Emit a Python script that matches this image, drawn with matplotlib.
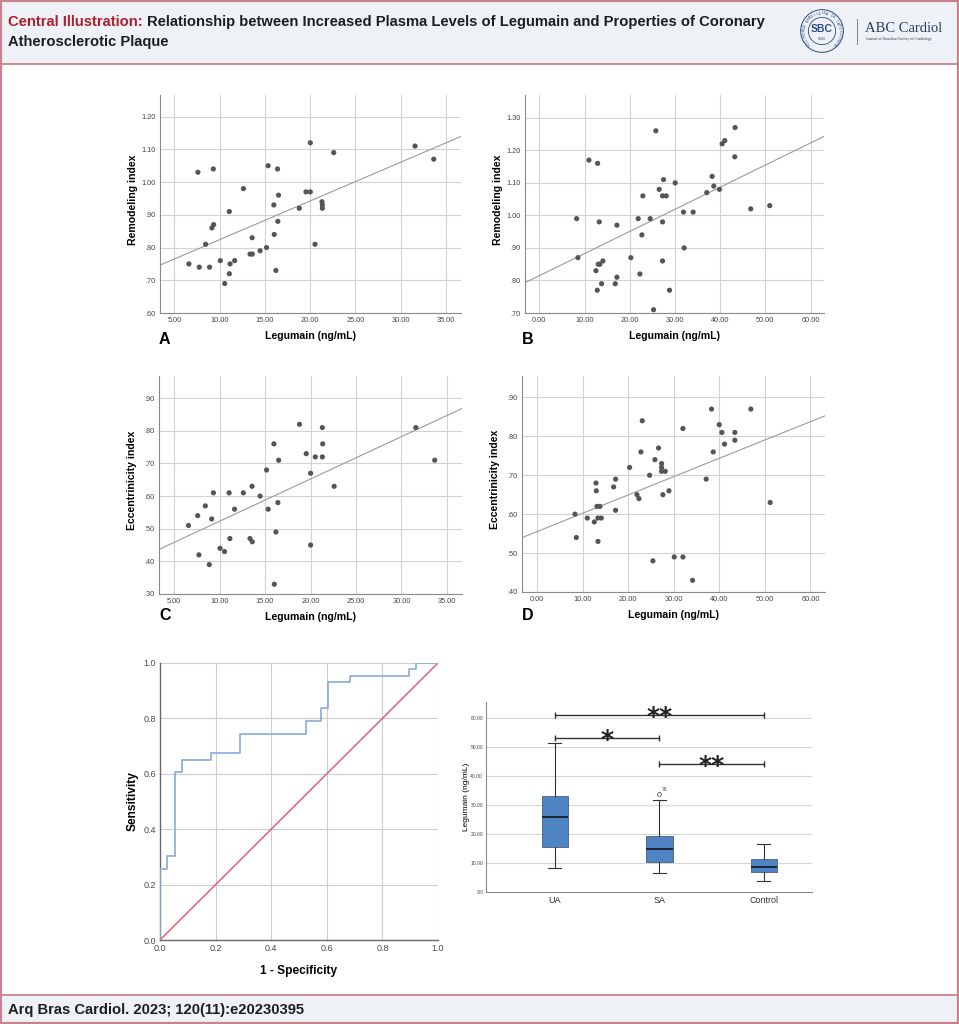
import numpy as np
import matplotlib
matplotlib.use('Agg')
import matplotlib.pyplot as plt
from matplotlib.patches import Rectangle, Circle
from matplotlib.lines import Line2D
from matplotlib.ticker import FuncFormatter

# ---- data ----
# panel A: legumain (ng/mL) vs remodeling index, SA group
a_x = [7.59, 9.29, 6.59, 7.74, 8.88, 8.44, 9.14, 9.33, 10.06, 10.55,
       11.06, 11.14, 11.06, 11.65, 12.62, 13.35, 13.60, 13.58, 14.46, 15.17,
       15.35, 15.98, 16.02, 16.20, 16.39, 16.42, 16.50, 18.79, 19.53, 20.01,
       20.01, 20.53, 21.30, 21.34, 21.34, 22.60, 31.58, 33.65]
a_y = [1.03, 1.04, 0.75, 0.74, 0.74, 0.81, 0.86, 0.87, 0.76, 0.69,
       0.72, 0.75, 0.91, 0.76, 0.98, 0.78, 0.78, 0.83, 0.79, 0.80,
       1.05, 0.93, 0.84, 0.73, 1.04, 0.88, 0.96, 0.92, 0.97, 0.97,
       1.12, 0.81, 0.94, 0.93, 0.92, 1.09, 1.11, 1.07]

# panel B: UA group
b_x = [8.25, 8.54, 10.97, 12.89, 13.25, 12.52, 13.03, 13.40, 14.06, 12.81,
       13.77, 16.79, 17.16, 17.16, 20.25, 21.87, 22.24, 22.68, 22.90, 24.52,
       25.26, 25.77, 26.51, 27.25, 27.25, 27.25, 27.47, 28.06, 28.79, 30.04,
       31.88, 32.03, 34.02, 37.04, 38.22, 38.59, 39.84, 40.43, 41.02, 43.22,
       43.30, 46.76, 50.96]
b_y = [0.99, 0.87, 1.17, 1.16, 0.98, 0.83, 0.85, 0.85, 0.86, 0.77,
       0.79, 0.79, 0.97, 0.81, 0.87, 0.99, 0.82, 0.94, 1.06, 0.99,
       0.71, 1.26, 1.08, 0.86, 0.98, 1.06, 1.11, 1.06, 0.77, 1.10,
       1.01, 0.90, 1.01, 1.07, 1.12, 1.09, 1.08, 1.22, 1.23, 1.18,
       1.27, 1.02, 1.03]

# panel C: legumain vs eccentricity index, SA group
c_x = [6.59, 7.60, 7.74, 8.44, 8.88, 9.14, 9.33, 10.06, 10.55, 11.06,
       11.14, 11.65, 12.62, 13.35, 13.58, 13.60, 14.46, 15.17, 15.35, 15.98,
       16.02, 16.20, 16.42, 16.50, 18.79, 19.53, 20.01, 20.01, 20.53, 21.30,
       21.30, 21.34, 22.60, 31.58, 33.65]
c_y = [0.51, 0.54, 0.42, 0.57, 0.39, 0.53, 0.61, 0.44, 0.43, 0.61,
       0.47, 0.56, 0.61, 0.47, 0.63, 0.46, 0.60, 0.68, 0.56, 0.76,
       0.33, 0.49, 0.58, 0.71, 0.82, 0.73, 0.45, 0.67, 0.72, 0.81,
       0.72, 0.76, 0.63, 0.81, 0.71]

# panel D: UA group
d_x = [8.33, 8.63, 11.04, 12.57, 12.94, 13.01, 13.16, 13.38, 13.38, 13.82,
       14.11, 16.81, 17.25, 17.25, 20.32, 21.93, 22.37, 22.81, 23.10, 24.71,
       25.44, 25.88, 26.68, 27.34, 27.34, 27.34, 27.63, 28.14, 28.95, 30.12,
       32.02, 32.02, 34.14, 37.13, 38.30, 38.67, 39.99, 40.57, 41.15, 43.42,
       43.42, 46.93, 51.17]
d_y = [0.60, 0.54, 0.59, 0.58, 0.68, 0.66, 0.62, 0.53, 0.59, 0.62,
       0.59, 0.67, 0.69, 0.61, 0.72, 0.65, 0.64, 0.76, 0.84, 0.70,
       0.48, 0.74, 0.77, 0.73, 0.72, 0.71, 0.65, 0.71, 0.66, 0.49,
       0.82, 0.49, 0.43, 0.69, 0.87, 0.76, 0.83, 0.81, 0.78, 0.81,
       0.79, 0.87, 0.63]

ticks_x_sa = [5, 10, 15, 20, 25, 30, 35]
ticks_x_ua = [0, 10, 20, 30, 40, 50, 60]
ticks_y_a = [0.6, 0.7, 0.8, 0.9, 1.0, 1.1, 1.2]
ticks_y_b = [0.7, 0.8, 0.9, 1.0, 1.1, 1.2, 1.3]
ticks_y_c = [0.3, 0.4, 0.5, 0.6, 0.7, 0.8, 0.9]
ticks_y_d = [0.4, 0.5, 0.6, 0.7, 0.8, 0.9]

# ROC curve corners (1 - specificity, sensitivity)
roc_fpr = [0, 0.026, 0.053, 0.079, 0.184, 0.289, 0.526, 0.579, 0.605, 0.684, 0.895, 0.921, 1.0]
roc_tpr = [0, 0.256, 0.302, 0.605, 0.651, 0.674, 0.744, 0.791, 0.837, 0.930, 0.953, 0.977, 1.0]
roc_ref = [0, 1]
roc_ticks = [0.0, 0.2, 0.4, 0.6, 0.8, 1.0]

# box plot of legumain by group
groups = ['UA', 'SA', 'Control']
box_med = [25.9, 14.7, 8.6]
box_q1 = [15.6, 10.4, 6.8]
box_q3 = [33.0, 19.2, 11.5]
box_lo = [8.3, 6.5, 3.8]
box_hi = [51.3, 31.6, 16.4]
box_fliers = [[], [33.7], []]
flier_ids = [[], ['78'], []]
box_ticks = [0, 10, 20, 30, 40, 50, 60]
# significance brackets: (group from, group to, height, stars)
brackets = [(0, 2, 61.0, '**'), (0, 1, 53.0, '*'), (1, 2, 43.9, '**')]

# ---- figure ----
W, H = 959, 1024
SANS = ['Liberation Sans', 'DejaVu Sans']
plt.rcParams['font.family'] = SANS

fig = plt.figure(figsize=(W / 100, H / 100), dpi=100)
fig.patch.set_facecolor('white')

border = '#c7848c'
panel_bg = '#eef2f7'


def px_axes(x0, y0, x1, y1):
    return fig.add_axes([x0 / W, 1 - y1 / H, (x1 - x0) / W, (y1 - y0) / H])


def fx(x):
    return x / W


def fy(y):
    return 1 - y / H


# header and footer boxes
fig.add_artist(Rectangle((0, fy(64)), 1, 64 / H, transform=fig.transFigure,
                         facecolor=panel_bg, edgecolor='none', zorder=0))
fig.add_artist(Rectangle((0, 0), 1, (H - 995) / H, transform=fig.transFigure,
                         facecolor=panel_bg, edgecolor='none', zorder=0))
fig.add_artist(Line2D([0, 1], [fy(64), fy(64)], transform=fig.transFigure, color=border, lw=1.3))
fig.add_artist(Line2D([0, 1], [fy(995), fy(995)], transform=fig.transFigure, color=border, lw=1.3))
fig.add_artist(Rectangle((0.001, 0.001), 0.998, 0.998, transform=fig.transFigure,
                         facecolor='none', edgecolor=border, lw=1.6, zorder=5))

# title
t1 = fig.text(fx(8), fy(22), 'Central Illustration:', color='#ad1f2e', fontsize=10.6,
              weight='bold', va='center')
renderer = fig.canvas.get_renderer()
bb = t1.get_window_extent(renderer)
fig.text((bb.x1 + 4) / W, fy(22),
         'Relationship between Increased Plasma Levels of Legumain and Properties of Coronary',
         color='#1e1e1e', fontsize=10.6, weight='bold', va='center')
fig.text(fx(8), fy(42), 'Atherosclerotic Plaque', color='#1e1e1e', fontsize=10.6,
         weight='bold', va='center')
fig.text(fx(8), fy(1010), 'Arq Bras Cardiol. 2023; 120(11):e20230395', color='#1e1e1e',
         fontsize=10.6, weight='bold', va='center')

# logo
logo_blue = '#2a4a80'
lg = px_axes(800, 9, 844, 53)
lg.set_xlim(-1, 1)
lg.set_ylim(-1, 1)
lg.axis('off')
lg.add_patch(Circle((0, 0), 0.97, fill=False, edgecolor=logo_blue, lw=0.7))
lg.add_patch(Circle((0, 0), 0.62, fill=False, edgecolor=logo_blue, lw=0.6))
lg.text(0, 0.08, 'SBC', ha='center', va='center', fontsize=7.5, weight='bold',
        color=logo_blue)
lg.text(0, -0.38, '1943', ha='center', va='center', fontsize=2.5, color=logo_blue)
ring = 'SOCIEDADE BRASILEIRA DE CARDIOLOGIA'
angles = np.linspace(225, -45, len(ring))
for ch, ang in zip(ring, angles):
    r = np.deg2rad(ang)
    lg.text(0.8 * np.cos(r), 0.8 * np.sin(r), ch, ha='center', va='center',
            fontsize=2.6, color=logo_blue, rotation=ang - 90)
fig.add_artist(Line2D([fx(857), fx(857)], [fy(19), fy(44)], transform=fig.transFigure,
                      color='#7a86a0', lw=0.7))
fig.text(fx(865), fy(28), 'ABC Cardiol', fontsize=10.5, color='#2c3c63', va='center',
         family=['Liberation Serif', 'DejaVu Serif'])
fig.text(fx(866), fy(39), 'Journal of Brazilian Society of Cardiology', fontsize=2.8,
         color='#2c3c63', va='center', family=['Liberation Serif', 'DejaVu Serif'])


def strip_zero(v, pos):
    s = f'{v:.2f}'
    return s[1:] if s.startswith('0.') else s


def two_dec(v, pos):
    return f'{v:.2f}'


def scatter_panel(rect, x, y, xlim, ylim, xticks, yticks, ylabel, letter, letter_pos):
    ax = px_axes(*rect)
    ax.scatter(x, y, s=14, color='#555555', edgecolors='none', zorder=3)
    coef = np.polyfit(x, y, 1)
    xs = np.array(xlim)
    ax.plot(xs, np.polyval(coef, xs), color='#9a9a9a', lw=0.8, zorder=2)
    ax.set_xlim(xlim)
    ax.set_ylim(ylim)
    ax.set_xticks(xticks)
    ax.set_yticks(yticks)
    ax.xaxis.set_major_formatter(FuncFormatter(two_dec))
    ax.yaxis.set_major_formatter(FuncFormatter(strip_zero))
    ax.grid(True, color='#d2d2d2', lw=0.8)
    ax.set_axisbelow(True)
    for s in ['top', 'right']:
        ax.spines[s].set_visible(False)
    for s in ['left', 'bottom']:
        ax.spines[s].set_color('#8a8a8a')
        ax.spines[s].set_linewidth(0.8)
    ax.tick_params(labelsize=5.3, labelcolor='#444444', length=0, pad=3)
    ax.set_xlabel('Legumain (ng/mL)', fontsize=7.6, weight='bold')
    ax.set_ylabel(ylabel, fontsize=7.6, weight='bold')
    w = rect[2] - rect[0]
    h = rect[3] - rect[1]
    ax.xaxis.set_label_coords(0.5, -18 / h)
    ax.yaxis.set_label_coords(-22 / w, 0.52)
    fig.text(fx(letter_pos[0]), fy(letter_pos[1]), letter, fontsize=11.5, weight='bold',
             va='center', ha='left')
    return ax


scatter_panel((160, 95, 461, 313), a_x, a_y, (3.4, 36.66), (0.60, 1.266),
              ticks_x_sa, ticks_y_a, 'Remodeling index', 'A', (159, 339))
scatter_panel((525, 95, 824, 313), b_x, b_y, (-3.17, 62.96), (0.70, 1.37),
              ticks_x_ua, ticks_y_b, 'Remodeling index', 'B', (522, 339))
scatter_panel((159, 376, 462, 594), c_x, c_y, (3.35, 36.65), (0.30, 0.968),
              ticks_x_sa, ticks_y_c, 'Eccentrinicity index', 'C', (159, 615))
scatter_panel((522, 376, 825, 592), d_x, d_y, (-3.29, 63.2), (0.40, 0.955),
              ticks_x_ua, ticks_y_d, 'Eccentrinicity index', 'D', (522, 616))

# ROC
ax = px_axes(160, 663, 438, 940)
ax.plot(roc_ref, roc_ref, color='#d9627d', lw=1.1, zorder=3)
ax.plot(roc_fpr, roc_tpr, drawstyle='steps-pre', color='#86acdb', lw=1.2, zorder=4)
ax.set_xlim(0, 1)
ax.set_ylim(0, 1)
ax.set_xticks(roc_ticks)
ax.set_yticks(roc_ticks)
ax.xaxis.set_major_formatter(FuncFormatter(lambda v, p: f'{v:.1f}'))
ax.yaxis.set_major_formatter(FuncFormatter(lambda v, p: f'{v:.1f}'))
ax.grid(True, color='#c9ced6', lw=0.8)
ax.set_axisbelow(True)
for s in ['top', 'right']:
    ax.spines[s].set_visible(False)
for s in ['left', 'bottom']:
    ax.spines[s].set_color('#6a6a6a')
    ax.spines[s].set_linewidth(1.0)
ax.tick_params(labelsize=6.5, labelcolor='#4a4a4a', length=0, pad=3)
ax.set_xlabel('1 - Specificity', fontsize=8.6, weight='bold')
ax.set_ylabel('Sensitivity', fontsize=8.6, weight='bold')
ax.xaxis.set_label_coords(0.5, -0.092)
ax.yaxis.set_label_coords(-0.077, 0.5)

# box plot
ax = px_axes(486, 702, 812, 892)
stats = []
for i, g in enumerate(groups):
    stats.append(dict(label=g, med=box_med[i], q1=box_q1[i], q3=box_q3[i],
                      whislo=box_lo[i], whishi=box_hi[i], fliers=box_fliers[i]))
ax.bxp(stats, positions=range(len(groups)), widths=0.25, patch_artist=True,
       boxprops=dict(facecolor='#4f84c4', edgecolor='#3a4a5a', lw=0.5),
       medianprops=dict(color='#1b2633', lw=1.4),
       whiskerprops=dict(color='#333333', lw=0.8),
       capprops=dict(color='#333333', lw=0.8),
       flierprops=dict(marker='o', markerfacecolor='none', markeredgecolor='#555555',
                       markersize=2.8, markeredgewidth=0.6))
for i, ids in enumerate(flier_ids):
    for val, lab in zip(box_fliers[i], ids):
        ax.annotate(lab, xy=(i, val), xytext=(2, 2), textcoords='offset points',
                    fontsize=3.5, color='#444444')
for i, j, yv, stars in brackets:
    ax.plot([i, j], [yv, yv], color='#333333', lw=1.0, marker='|', markersize=5,
            markeredgewidth=1.0)
    ax.annotate(stars, xy=((i + j) / 2, yv), xytext=(0, -6.5), textcoords='offset points',
                ha='center', va='baseline', fontsize=18, weight='bold',
                family='DejaVu Sans', color='#222222')
ax.set_xlim(-0.66, 2.46)
ax.set_ylim(0, 65.4)
ax.set_yticks(box_ticks)
ax.yaxis.set_major_formatter(FuncFormatter(strip_zero))
ax.yaxis.grid(True, color='#d6d6d6', lw=0.8)
ax.set_axisbelow(True)
for s in ['top', 'right']:
    ax.spines[s].set_visible(False)
for s in ['left', 'bottom']:
    ax.spines[s].set_color('#8a8a8a')
    ax.spines[s].set_linewidth(0.8)
ax.tick_params(axis='y', labelsize=3.6, labelcolor='#444444', length=0, pad=2)
ax.tick_params(axis='x', labelsize=6.5, labelcolor='#333333', length=0, pad=3)
ax.set_ylabel('Legumain (ng/mL)', fontsize=6)
ax.yaxis.set_label_coords(-0.049, 0.5)

fig.savefig('out.png', dpi=100)
